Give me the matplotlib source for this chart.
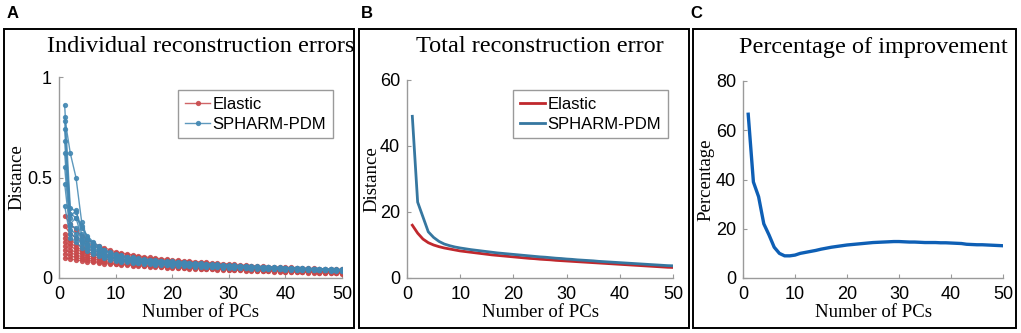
import numpy as np
import matplotlib
matplotlib.use('Agg')
import matplotlib.pyplot as plt
from matplotlib.patches import Rectangle

pcs = np.arange(1, 51)

# A) individual reconstruction errors (a few subjects per method)
elastic_ind = [
    [0.31, 0.27, 0.24, 0.21, 0.19, 0.175, 0.16, 0.15, 0.14, 0.13,
     0.125, 0.12, 0.115, 0.11, 0.106, 0.102, 0.099, 0.096, 0.093, 0.09,
     0.088, 0.086, 0.084, 0.082, 0.08, 0.078, 0.076, 0.074, 0.072, 0.07,
     0.068, 0.066, 0.064, 0.062, 0.06, 0.058, 0.057, 0.056, 0.055, 0.054,
     0.053, 0.052, 0.05, 0.049, 0.048, 0.047, 0.046, 0.045, 0.044, 0.043],
    [0.26, 0.22, 0.2, 0.18, 0.17, 0.16, 0.15, 0.14, 0.13, 0.122,
     0.117, 0.112, 0.108, 0.104, 0.1, 0.097, 0.094, 0.091, 0.088, 0.085,
     0.083, 0.081, 0.079, 0.077, 0.075, 0.073, 0.071, 0.069, 0.067, 0.065,
     0.063, 0.061, 0.06, 0.058, 0.056, 0.055, 0.053, 0.052, 0.05, 0.049,
     0.048, 0.047, 0.045, 0.044, 0.043, 0.042, 0.041, 0.04, 0.039, 0.038],
    [0.22, 0.19, 0.17, 0.155, 0.145, 0.135, 0.127, 0.12, 0.114, 0.108,
     0.104, 0.1, 0.097, 0.094, 0.091, 0.088, 0.085, 0.083, 0.08, 0.078,
     0.076, 0.074, 0.072, 0.07, 0.068, 0.066, 0.064, 0.062, 0.06, 0.058,
     0.057, 0.055, 0.054, 0.052, 0.051, 0.05, 0.048, 0.047, 0.046, 0.045,
     0.044, 0.042, 0.041, 0.04, 0.039, 0.038, 0.037, 0.036, 0.035, 0.034],
    [0.2, 0.175, 0.155, 0.14, 0.13, 0.122, 0.115, 0.109, 0.104, 0.1,
     0.096, 0.092, 0.089, 0.086, 0.083, 0.081, 0.079, 0.077, 0.075, 0.073,
     0.071, 0.069, 0.067, 0.065, 0.063, 0.061, 0.06, 0.058, 0.057, 0.055,
     0.054, 0.052, 0.051, 0.05, 0.048, 0.047, 0.046, 0.045, 0.044, 0.043,
     0.042, 0.041, 0.04, 0.039, 0.038, 0.037, 0.036, 0.035, 0.034, 0.033],
    [0.18, 0.158, 0.142, 0.131, 0.122, 0.115, 0.109, 0.104, 0.099, 0.095,
     0.091, 0.088, 0.085, 0.082, 0.08, 0.078, 0.076, 0.074, 0.072, 0.07,
     0.068, 0.066, 0.064, 0.062, 0.06, 0.058, 0.057, 0.055, 0.054, 0.052,
     0.051, 0.05, 0.048, 0.047, 0.046, 0.045, 0.044, 0.043, 0.041, 0.04,
     0.039, 0.038, 0.037, 0.036, 0.035, 0.034, 0.033, 0.032, 0.031, 0.03],
    [0.16, 0.14, 0.128, 0.118, 0.11, 0.104, 0.099, 0.094, 0.09, 0.087,
     0.084, 0.081, 0.078, 0.076, 0.074, 0.072, 0.07, 0.068, 0.066, 0.064,
     0.062, 0.06, 0.058, 0.057, 0.055, 0.054, 0.052, 0.051, 0.05, 0.048,
     0.047, 0.046, 0.045, 0.044, 0.043, 0.042, 0.041, 0.04, 0.039, 0.038,
     0.037, 0.036, 0.035, 0.034, 0.033, 0.032, 0.031, 0.03, 0.029, 0.028],
    [0.14, 0.126, 0.115, 0.106, 0.1, 0.094, 0.09, 0.086, 0.082, 0.079,
     0.076, 0.074, 0.071, 0.069, 0.067, 0.065, 0.063, 0.061, 0.06, 0.058,
     0.056, 0.055, 0.053, 0.052, 0.05, 0.049, 0.048, 0.047, 0.046, 0.045,
     0.044, 0.043, 0.042, 0.041, 0.04, 0.039, 0.038, 0.037, 0.036, 0.035,
     0.034, 0.033, 0.032, 0.031, 0.03, 0.03, 0.029, 0.028, 0.027, 0.026],
    [0.12, 0.11, 0.102, 0.095, 0.09, 0.086, 0.082, 0.078, 0.075, 0.072,
     0.07, 0.068, 0.066, 0.064, 0.062, 0.06, 0.058, 0.057, 0.055, 0.054,
     0.052, 0.051, 0.05, 0.048, 0.047, 0.046, 0.045, 0.044, 0.043, 0.042,
     0.041, 0.04, 0.039, 0.038, 0.037, 0.036, 0.035, 0.034, 0.033, 0.032,
     0.031, 0.03, 0.029, 0.029, 0.028, 0.027, 0.026, 0.025, 0.025, 0.024],
    [0.1, 0.095, 0.09, 0.086, 0.082, 0.078, 0.075, 0.072, 0.07, 0.068,
     0.066, 0.064, 0.062, 0.06, 0.058, 0.057, 0.055, 0.054, 0.052, 0.051,
     0.05, 0.049, 0.047, 0.046, 0.045, 0.044, 0.043, 0.042, 0.041, 0.04,
     0.039, 0.038, 0.037, 0.036, 0.035, 0.034, 0.033, 0.032, 0.031, 0.031,
     0.03, 0.029, 0.028, 0.027, 0.027, 0.026, 0.025, 0.024, 0.023, 0.022],
]

spharm_ind = [
    [0.80, 0.62, 0.50, 0.28, 0.2, 0.17, 0.15, 0.135, 0.125, 0.115,
     0.11, 0.106, 0.102, 0.098, 0.095, 0.092, 0.089, 0.087, 0.085, 0.083,
     0.081, 0.079, 0.077, 0.075, 0.073, 0.071, 0.069, 0.068, 0.066, 0.065,
     0.063, 0.062, 0.06, 0.059, 0.058, 0.057, 0.056, 0.054, 0.053, 0.052,
     0.051, 0.05, 0.049, 0.048, 0.047, 0.046, 0.045, 0.044, 0.044, 0.043],
    [0.86, 0.35, 0.33, 0.25, 0.21, 0.18, 0.16, 0.14, 0.13, 0.12,
     0.112, 0.106, 0.1, 0.096, 0.092, 0.089, 0.086, 0.084, 0.082, 0.08,
     0.078, 0.076, 0.074, 0.072, 0.07, 0.068, 0.067, 0.065, 0.064, 0.062,
     0.061, 0.06, 0.058, 0.057, 0.056, 0.055, 0.054, 0.053, 0.052, 0.051,
     0.05, 0.049, 0.048, 0.047, 0.046, 0.045, 0.044, 0.043, 0.042, 0.041],
    [0.78, 0.32, 0.3, 0.26, 0.2, 0.175, 0.155, 0.138, 0.126, 0.116,
     0.108, 0.102, 0.098, 0.094, 0.09, 0.087, 0.084, 0.082, 0.08, 0.078,
     0.076, 0.074, 0.072, 0.071, 0.069, 0.067, 0.066, 0.064, 0.063, 0.061,
     0.06, 0.059, 0.057, 0.056, 0.055, 0.054, 0.053, 0.052, 0.051, 0.05,
     0.049, 0.048, 0.047, 0.046, 0.045, 0.044, 0.043, 0.043, 0.042, 0.041],
    [0.74, 0.3, 0.34, 0.22, 0.19, 0.16, 0.145, 0.13, 0.12, 0.11,
     0.104, 0.099, 0.095, 0.091, 0.088, 0.085, 0.083, 0.081, 0.079, 0.077,
     0.075, 0.073, 0.071, 0.07, 0.068, 0.066, 0.065, 0.063, 0.062, 0.06,
     0.059, 0.058, 0.057, 0.055, 0.054, 0.053, 0.052, 0.051, 0.05, 0.049,
     0.048, 0.047, 0.046, 0.045, 0.044, 0.043, 0.042, 0.042, 0.041, 0.04],
    [0.68, 0.27, 0.3, 0.2, 0.17, 0.15, 0.135, 0.12, 0.11, 0.102,
     0.097, 0.093, 0.089, 0.086, 0.083, 0.081, 0.079, 0.077, 0.075, 0.073,
     0.071, 0.069, 0.068, 0.066, 0.065, 0.063, 0.062, 0.06, 0.059, 0.058,
     0.057, 0.056, 0.054, 0.053, 0.052, 0.051, 0.05, 0.049, 0.048, 0.047,
     0.046, 0.045, 0.045, 0.044, 0.043, 0.042, 0.041, 0.041, 0.04, 0.039],
    [0.62, 0.26, 0.25, 0.19, 0.165, 0.145, 0.13, 0.117, 0.107, 0.1,
     0.095, 0.09, 0.087, 0.084, 0.081, 0.079, 0.077, 0.075, 0.073, 0.071,
     0.069, 0.068, 0.066, 0.065, 0.063, 0.062, 0.06, 0.059, 0.058, 0.057,
     0.056, 0.055, 0.053, 0.052, 0.051, 0.05, 0.049, 0.048, 0.047, 0.047,
     0.046, 0.045, 0.044, 0.043, 0.043, 0.042, 0.041, 0.04, 0.04, 0.039],
    [0.55, 0.24, 0.22, 0.18, 0.16, 0.14, 0.125, 0.113, 0.104, 0.097,
     0.092, 0.088, 0.085, 0.082, 0.079, 0.077, 0.075, 0.073, 0.071, 0.069,
     0.068, 0.066, 0.065, 0.063, 0.062, 0.06, 0.059, 0.058, 0.057, 0.056,
     0.054, 0.053, 0.052, 0.051, 0.05, 0.049, 0.048, 0.047, 0.046, 0.046,
     0.045, 0.044, 0.043, 0.042, 0.042, 0.041, 0.04, 0.039, 0.039, 0.038],
    [0.47, 0.22, 0.2, 0.17, 0.15, 0.13, 0.117, 0.106, 0.098, 0.092,
     0.087, 0.083, 0.08, 0.077, 0.075, 0.073, 0.071, 0.069, 0.067, 0.066,
     0.064, 0.063, 0.061, 0.06, 0.059, 0.057, 0.056, 0.055, 0.054, 0.053,
     0.052, 0.051, 0.05, 0.049, 0.048, 0.047, 0.046, 0.045, 0.045, 0.044,
     0.043, 0.042, 0.042, 0.041, 0.04, 0.04, 0.039, 0.038, 0.038, 0.037],
    [0.36, 0.2, 0.18, 0.15, 0.135, 0.12, 0.108, 0.099, 0.092, 0.086,
     0.082, 0.078, 0.075, 0.073, 0.071, 0.069, 0.067, 0.065, 0.064, 0.062,
     0.061, 0.06, 0.058, 0.057, 0.056, 0.055, 0.054, 0.053, 0.052, 0.051,
     0.05, 0.049, 0.048, 0.047, 0.046, 0.045, 0.045, 0.044, 0.043, 0.042,
     0.042, 0.041, 0.04, 0.04, 0.039, 0.038, 0.038, 0.037, 0.036, 0.036],
]

# B) total reconstruction error
elastic_total = [16, 13.6, 11.8, 10.7, 10, 9.5, 9.1, 8.8, 8.5, 8.2,
                 8.0, 7.8, 7.6, 7.4, 7.2, 7.0, 6.85, 6.7, 6.55, 6.4,
                 6.25, 6.1, 5.95, 5.85, 5.7, 5.6, 5.5, 5.35, 5.25, 5.15,
                 5.05, 4.95, 4.85, 4.75, 4.65, 4.55, 4.45, 4.35, 4.25, 4.15,
                 4.05, 3.95, 3.85, 3.75, 3.65, 3.55, 3.45, 3.35, 3.25, 3.2]
spharm_total = [49, 23, 18.5, 14, 12.3, 11.1, 10.3, 9.8, 9.4, 9.1,
                8.85, 8.6, 8.4, 8.2, 8.0, 7.8, 7.6, 7.45, 7.3, 7.15,
                7.0, 6.85, 6.7, 6.55, 6.4, 6.3, 6.15, 6.0, 5.9, 5.75,
                5.65, 5.5, 5.4, 5.3, 5.2, 5.05, 4.95, 4.85, 4.75, 4.65,
                4.55, 4.45, 4.35, 4.25, 4.15, 4.05, 3.95, 3.85, 3.75, 3.7]

# C) percentage of improvement
improvement = [66.5, 39, 33, 22, 17.5, 12.5, 10, 9, 9, 9.3,
               10, 10.4, 10.8, 11.2, 11.7, 12.1, 12.5, 12.8, 13.1, 13.4,
               13.6, 13.8, 14, 14.2, 14.4, 14.5, 14.6, 14.7, 14.8, 14.8,
               14.7, 14.6, 14.6, 14.5, 14.4, 14.4, 14.4, 14.3, 14.3, 14.2,
               14.1, 14.0, 13.7, 13.6, 13.5, 13.5, 13.4, 13.3, 13.2, 13.1]

red = '#c0282d'
blue = '#3677a0'
red_ind = '#c84a4c'
blue_ind = '#4287b2'
dark_blue = '#0e5fb5'
gray = '#9a9a9a'

sans = 'Liberation Sans'
serif = 'Liberation Serif'

W, H = 1021, 333
fig = plt.figure(figsize=(W / 100, H / 100), dpi=100)


def px_axes(l, r, t, b):
    return fig.add_axes([l / W, (H - b) / H, (r - l) / W, (b - t) / H])


def bb_h(ax):
    return ax.get_position().height * H


def style(ax, ylab, ylab_x, title):
    for s in ['top', 'right']:
        ax.spines[s].set_visible(False)
    for s in ['left', 'bottom']:
        ax.spines[s].set_color(gray)
        ax.spines[s].set_linewidth(1.0)
    ax.tick_params(direction='in', length=3, color=gray, labelsize=13)
    ax.tick_params(axis='x', pad=6)
    ax.tick_params(axis='y', pad=5)
    for lab in ax.get_xticklabels() + ax.get_yticklabels():
        lab.set_fontfamily(sans)
    ax.set_xlim(0, 50)
    ax.set_xticks([0, 10, 20, 30, 40, 50])
    ax.set_xlabel('Number of PCs', fontfamily=serif, fontsize=13.5)
    ax.xaxis.set_label_coords(0.5, -(304 - 278) / bb_h(ax))
    ax.set_ylabel(ylab, fontfamily=serif, fontsize=13.5)
    ax.yaxis.set_label_coords(ylab_x, 0.5)
    bb = ax.get_position()
    fig.text(bb.x0 + bb.width / 2, (H - 47) / H, title, fontfamily=serif,
             fontsize=17.5, ha='center', va='center')


# panel A
axA = px_axes(59, 342, 77, 278)
for i, y in enumerate(elastic_ind):
    axA.plot(pcs, y, '-o', color=red_ind, lw=1.0, ms=2.8, alpha=0.85,
             label='Elastic' if i == 0 else None)
for i, y in enumerate(spharm_ind):
    axA.plot(pcs, y, '-o', color=blue_ind, lw=1.0, ms=2.8, alpha=0.85,
             label='SPHARM-PDM' if i == 0 else None)
axA.set_ylim(0, 1)
axA.set_yticks([0, 0.5, 1])
axA.set_yticklabels(['0', '0.5', '1'])
style(axA, 'Distance', -0.12, 'Individual reconstruction errors')
axA.legend(loc='upper right', bbox_to_anchor=(0.968, 0.935), borderaxespad=0,
           prop={'family': sans, 'size': 12}, fancybox=False, edgecolor=gray,
           framealpha=1, numpoints=1, handlelength=1.5, handletextpad=0.15,
           borderpad=0.4, labelspacing=0.3)

# panel B
axB = px_axes(407, 673, 80, 278)
axB.plot(pcs, elastic_total, color=red, lw=2, label='Elastic')
axB.plot(pcs, spharm_total, color=blue, lw=2, label='SPHARM-PDM')
axB.set_ylim(0, 60)
axB.set_yticks([0, 20, 40, 60])
style(axB, 'Distance', -0.1, 'Total reconstruction error')
axB.legend(loc='upper right', bbox_to_anchor=(0.981, 0.949), borderaxespad=0,
           prop={'family': sans, 'size': 12}, fancybox=False, edgecolor=gray,
           framealpha=1, handlelength=1.5, handletextpad=0.15,
           borderpad=0.4, labelspacing=0.3)

# panel C
axC = px_axes(743, 1003, 81, 278)
axC.plot(pcs, improvement, color=dark_blue, lw=2.4)
axC.set_ylim(0, 80)
axC.set_yticks([0, 20, 40, 60, 80])
style(axC, 'Percentage', -0.108, 'Percentage of improvement')

# panel frames and letters
for l, r in [(4, 354), (359, 689), (693, 1016)]:
    fig.patches.append(Rectangle((l / W, (H - 328) / H), (r - l) / W, 299 / H,
                                 transform=fig.transFigure, fill=False,
                                 edgecolor='black', lw=1.4))
for x, s in [(7, 'A'), (361, 'B'), (690, 'C')]:
    fig.text(x / W, (H - 14) / H, s, fontfamily=sans, fontweight='bold',
             fontsize=12, ha='left', va='center')

fig.savefig('out.png', dpi=100)
